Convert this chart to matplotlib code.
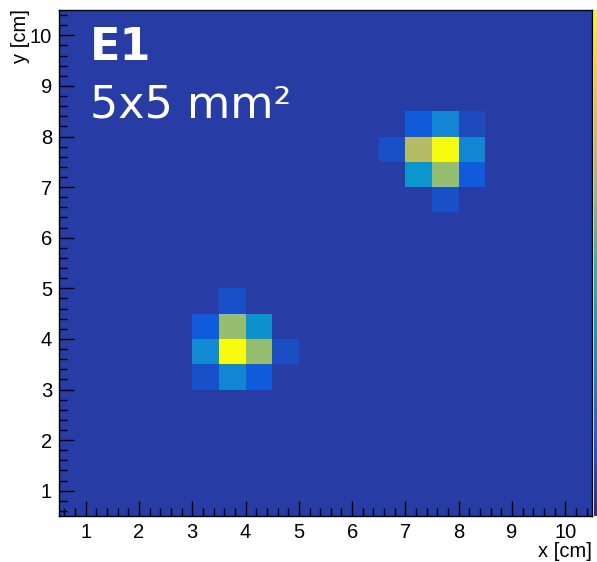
import numpy as np
import matplotlib
matplotlib.use("Agg")
import matplotlib.pyplot as plt
from matplotlib.colors import LinearSegmentedColormap
from matplotlib.ticker import MultipleLocator

# ROOT kBird palette stops
bird_r = [0.2082, 0.0592, 0.0780, 0.0232, 0.1802, 0.5301, 0.8186, 0.9956, 0.9764]
bird_g = [0.1664, 0.3599, 0.5041, 0.6419, 0.7178, 0.7492, 0.7328, 0.7862, 0.9832]
bird_b = [0.5293, 0.8684, 0.8385, 0.7914, 0.6425, 0.4662, 0.3499, 0.1968, 0.0539]

# histogram binning (cm)
x_edges = np.arange(0.5, 10.51, 0.5)
y_edges = np.arange(0.5, 10.51, 0.5)
background = 4.6

# non-empty cells: lower-left bin edge and content
cell_x = [7.0, 7.5, 8.0, 6.5, 7.0, 7.5, 8.0, 7.0, 7.5, 8.0, 7.5,
          3.5, 3.0, 3.5, 4.0, 3.0, 3.5, 4.0, 4.5, 3.0, 3.5, 4.0]
cell_y = [8.0, 8.0, 8.0, 7.5, 7.5, 7.5, 7.5, 7.0, 7.0, 7.0, 6.5,
          4.5, 4.0, 4.0, 4.0, 3.5, 3.5, 3.5, 3.5, 3.0, 3.0, 3.0]
cell_z = [12.5, 27, 8, 9.5, 70, 100, 27, 33, 65, 12.5, 9.5,
          9.5, 12.5, 65, 31, 28, 100, 65, 9, 9.5, 27, 12.5]

colors = list(zip(bird_r, bird_g, bird_b))
cmap = LinearSegmentedColormap.from_list("bird", colors, N=255)

z = np.full((len(y_edges) - 1, len(x_edges) - 1), background)
for cx, cy, cz in zip(cell_x, cell_y, cell_z):
    i = int(round((cx - x_edges[0]) / 0.5))
    j = int(round((cy - y_edges[0]) / 0.5))
    z[j, i] = cz

W, H = 597, 562
fig = plt.figure(figsize=(W / 100, H / 100), dpi=100)
ax = fig.add_axes([59 / W, 1 - 516 / H, 533 / W, 506 / H])
mesh = ax.pcolormesh(x_edges, y_edges, z, cmap=cmap, vmin=0, vmax=100)

ax.set_xlim(0.5, 10.5)
ax.set_ylim(0.5, 10.5)
ax.xaxis.set_major_locator(MultipleLocator(1))
ax.xaxis.set_minor_locator(MultipleLocator(0.2))
ax.yaxis.set_major_locator(MultipleLocator(1))
ax.yaxis.set_minor_locator(MultipleLocator(0.2))
ax.tick_params(which="both", direction="in", top=False, right=False,
               color="black", width=1)
ax.tick_params(which="major", length=11, labelsize=14.5, pad=5)
ax.tick_params(which="minor", length=5.5)
for lbl in ax.get_xticklabels() + ax.get_yticklabels():
    lbl.set_family("Liberation Sans")
for sp in ax.spines.values():
    sp.set_linewidth(1)

fig.text(592 / W, 1 - 557 / H, "x [cm]", ha="right", va="baseline",
         fontsize=14.5, family="Liberation Sans")
fig.text(21 / W, 1 - 9 / H, "y [cm]", ha="center", va="top", rotation=90,
         fontsize=14.5, family="Liberation Sans")

ax.text(90 / W, 1 - 60 / H, "E1", transform=fig.transFigure, color="white",
        fontsize=32, fontweight="bold", family="DejaVu Sans", va="baseline")
ax.text(90 / W, 1 - 117 / H, "5x5 mm²", transform=fig.transFigure,
        color="white", fontsize=32, family="DejaVu Sans", va="baseline")

cax = fig.add_axes([594 / W, 1 - 516 / H, 10 / W, 506 / H])
cb = fig.colorbar(mesh, cax=cax)
cb.outline.set_visible(False)
cb.set_ticks([])

fig.savefig("out.png", dpi=100)
